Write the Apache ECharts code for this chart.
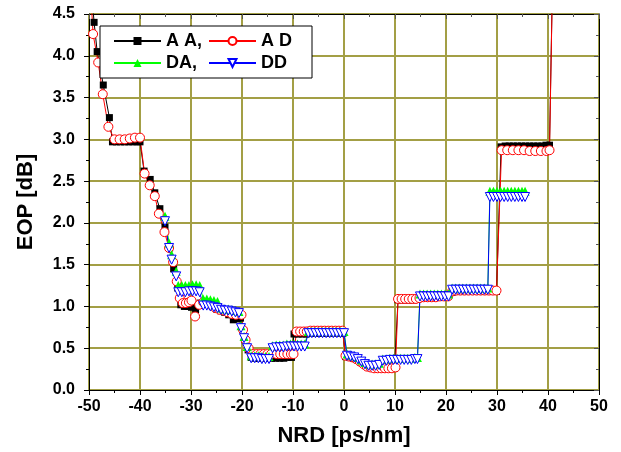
<!DOCTYPE html>
<html>
<head>
<meta charset="utf-8">
<script src="https://cdn.jsdelivr.net/npm/echarts@6/dist/echarts.min.js"></script>
<style>
body { margin: 0; background: #fff; }
#chart { width: 621px; height: 452px; }
</style>
</head>
<body>
<div id="chart"></div>
<script>
// NRD [ps/nm] vs EOP [dB]
const legendNames = ['A A,', 'A D', 'DA,', 'DD'];

const aaPoints = [
    [-49.8, 5.00], [-49.0, 4.40], [-48.4, 4.05], [-47.2, 3.65], [-46.0, 3.26],
    [-45.4, 2.97], [-44.6, 2.97], [-43.8, 2.97], [-43.0, 2.97], [-42.2, 2.97], [-41.4, 2.97], [-40.6, 2.97], [-40.0, 2.97],
    [-39.2, 2.62], [-38.0, 2.52], [-37.1, 2.36], [-36.1, 2.17], [-35.1, 1.95], [-34.2, 1.70], [-33.4, 1.45], [-32.6, 1.22],
    [-32.0, 1.02], [-31.3, 1.00], [-30.6, 1.00], [-29.9, 0.99], [-29.1, 0.96],
    [-28.2, 1.04], [-27.4, 1.05], [-26.6, 1.04], [-25.8, 1.00], [-25.0, 0.97], [-24.2, 0.95], [-23.4, 0.93], [-22.6, 0.90],
    [-21.7, 0.84], [-20.9, 0.85], [-20.3, 0.86],
    [-19.9, 0.72], [-19.4, 0.60], [-18.8, 0.48],
    [-18.2, 0.39], [-17.4, 0.38], [-16.6, 0.38], [-15.8, 0.38], [-15.0, 0.38], [-14.2, 0.38], [-13.4, 0.38], [-12.6, 0.38],
    [-11.8, 0.38], [-11.0, 0.39], [-10.3, 0.39],
    [-9.8, 0.67], [-9.0, 0.67], [-8.2, 0.67], [-7.4, 0.67], [-6.6, 0.68], [-5.8, 0.68], [-5.0, 0.68], [-4.2, 0.68],
    [-3.4, 0.68], [-2.6, 0.68], [-1.8, 0.68], [-1.0, 0.68], [-0.2, 0.68],
    [0.3, 0.40], [1.1, 0.39], [1.9, 0.38], [2.7, 0.36], [3.5, 0.33], [4.3, 0.29], [5.1, 0.27], [5.9, 0.26], [6.7, 0.26],
    [7.5, 0.26], [8.3, 0.26], [9.1, 0.26], [9.9, 0.26],
    [10.6, 1.08], [11.3, 1.08], [12.0, 1.08], [12.7, 1.08], [13.4, 1.08], [14.1, 1.09], [14.8, 1.10], [15.6, 1.11],
    [16.4, 1.11], [17.2, 1.11], [18.0, 1.12], [18.8, 1.12], [19.6, 1.12], [20.4, 1.12],
    [21.2, 1.17], [22.0, 1.18], [22.8, 1.18], [23.6, 1.18], [24.4, 1.18], [25.2, 1.18], [26.0, 1.18], [26.8, 1.18],
    [27.6, 1.18], [28.4, 1.18], [29.2, 1.18], [29.9, 1.18],
    [30.8, 2.91], [31.6, 2.92], [32.4, 2.92], [33.2, 2.92], [34.0, 2.92], [34.8, 2.92], [35.6, 2.92], [36.4, 2.92],
    [37.2, 2.92], [38.0, 2.92], [38.8, 2.92], [39.6, 2.93], [40.3, 2.93],
    [41.2, 6.00]
];

const adPoints = [
    [-49.8, 4.90], [-49.2, 4.26], [-48.2, 3.92], [-47.3, 3.54], [-46.2, 3.15],
    [-45.0, 3.00], [-44.0, 3.00], [-43.0, 3.00], [-42.0, 3.01], [-41.0, 3.02], [-40.0, 3.02],
    [-39.1, 2.59], [-38.1, 2.45], [-37.1, 2.32], [-36.3, 2.11], [-35.2, 1.89], [-34.3, 1.70], [-33.5, 1.53], [-32.8, 1.30],
    [-32.2, 1.10], [-31.6, 1.04], [-31.0, 1.04], [-30.4, 1.05], [-29.9, 1.07], [-29.2, 0.88],
    [-28.4, 1.02], [-27.6, 1.05], [-26.8, 1.04], [-26.0, 1.02], [-25.2, 0.98], [-24.4, 0.96], [-23.6, 0.95], [-22.8, 0.93],
    [-22.0, 0.91], [-21.2, 0.90], [-20.1, 0.90],
    [-19.8, 0.72], [-19.3, 0.60], [-18.7, 0.50],
    [-17.8, 0.43], [-17.1, 0.43], [-16.4, 0.43], [-15.7, 0.43], [-15.0, 0.43], [-14.3, 0.43], [-13.2, 0.43], [-12.5, 0.43],
    [-11.8, 0.43], [-11.1, 0.43], [-10.4, 0.43], [-9.9, 0.43],
    [-9.3, 0.70], [-8.6, 0.70], [-7.9, 0.70], [-7.3, 0.70], [-6.6, 0.71], [-5.9, 0.71], [-5.2, 0.71], [-4.5, 0.71],
    [-3.8, 0.71], [-3.1, 0.71], [-2.4, 0.71], [-1.7, 0.71], [-1.0, 0.71], [-0.3, 0.71],
    [0.3, 0.41], [1.0, 0.40], [1.7, 0.39], [2.4, 0.37], [3.1, 0.34], [3.8, 0.31], [4.5, 0.28], [5.2, 0.27], [5.9, 0.26],
    [6.6, 0.26], [7.3, 0.26], [8.0, 0.26], [8.7, 0.26], [9.4, 0.26], [10.1, 0.27],
    [10.6, 1.09], [11.3, 1.09], [12.0, 1.09], [12.7, 1.09], [13.4, 1.09], [14.1, 1.09], [14.8, 1.10], [15.6, 1.11],
    [16.4, 1.11], [17.2, 1.11], [18.0, 1.11], [18.8, 1.12], [19.6, 1.12], [20.4, 1.12],
    [21.2, 1.18], [22.0, 1.19], [22.8, 1.19], [23.6, 1.19], [24.4, 1.19], [25.2, 1.19], [26.0, 1.19], [26.8, 1.19],
    [27.6, 1.19], [28.4, 1.19], [29.2, 1.19], [29.9, 1.19],
    [30.9, 2.87], [32.0, 2.87], [33.1, 2.87], [34.2, 2.87], [35.3, 2.87], [36.4, 2.86], [37.5, 2.86], [38.6, 2.86],
    [39.7, 2.86], [40.3, 2.87],
    [41.2, 6.00]
];

const daPoints = [
    [-35.1, 2.08], [-34.3, 1.76], [-33.8, 1.62], [-32.9, 1.42],
    [-32.5, 1.25], [-31.8, 1.25], [-31.1, 1.25], [-30.4, 1.25], [-29.7, 1.26], [-29.0, 1.26], [-28.3, 1.25],
    [-27.6, 1.09], [-26.9, 1.09], [-26.2, 1.08], [-25.5, 1.07], [-24.8, 1.06],
    [-24.1, 0.98], [-23.4, 0.97], [-22.7, 0.97], [-22.0, 0.96], [-21.3, 0.95], [-20.6, 0.94],
    [-20.2, 0.77], [-19.6, 0.64], [-19.0, 0.52],
    [-18.2, 0.41], [-17.5, 0.41], [-16.8, 0.41], [-16.1, 0.40], [-15.4, 0.40], [-14.7, 0.40],
    [-14.0, 0.53], [-13.3, 0.54], [-12.6, 0.54], [-11.9, 0.54], [-11.2, 0.55], [-10.5, 0.55], [-9.8, 0.55], [-9.1, 0.55],
    [-8.4, 0.55], [-7.7, 0.55],
    [-7.0, 0.70], [-6.3, 0.70], [-5.6, 0.70], [-4.9, 0.70], [-4.2, 0.70], [-3.5, 0.70], [-2.8, 0.70], [-2.1, 0.70],
    [-1.4, 0.70], [-0.7, 0.70], [0.0, 0.70],
    [0.6, 0.43], [1.3, 0.42], [2.0, 0.41], [2.7, 0.39], [3.4, 0.36], [4.1, 0.33], [4.8, 0.31], [5.5, 0.31], [6.2, 0.31],
    [6.9, 0.32],
    [7.6, 0.37], [8.3, 0.37], [9.0, 0.38], [9.7, 0.38], [10.4, 0.38], [11.1, 0.38], [11.8, 0.38], [12.5, 0.38],
    [13.2, 0.38], [13.9, 0.39], [14.4, 0.39],
    [14.9, 1.15], [15.6, 1.15], [16.3, 1.15], [17.0, 1.15], [17.7, 1.15], [18.4, 1.15], [19.1, 1.15], [19.8, 1.15],
    [20.5, 1.15],
    [21.2, 1.22], [21.9, 1.22], [22.6, 1.22], [23.3, 1.22], [24.0, 1.22], [24.7, 1.22], [25.4, 1.22], [26.1, 1.22],
    [26.8, 1.22], [27.5, 1.22], [28.2, 1.22],
    [28.6, 2.38], [29.3, 2.38], [30.0, 2.38], [30.7, 2.38], [31.4, 2.38], [32.1, 2.38], [32.8, 2.38], [33.5, 2.38],
    [34.2, 2.38], [34.9, 2.38], [35.5, 2.38]
];

const ddPoints = [
    [-35.1, 2.02], [-34.3, 1.70], [-33.8, 1.56], [-32.9, 1.36],
    [-32.5, 1.17], [-31.8, 1.17], [-31.1, 1.17], [-30.4, 1.18], [-29.7, 1.18], [-29.0, 1.18], [-28.3, 1.17],
    [-27.6, 1.01], [-26.9, 1.01], [-26.2, 1.00], [-25.5, 0.99], [-24.8, 0.98],
    [-24.1, 0.96], [-23.4, 0.95], [-22.7, 0.95], [-22.0, 0.94], [-21.3, 0.93], [-20.6, 0.92],
    [-20.2, 0.74], [-19.6, 0.62], [-19.0, 0.50],
    [-18.2, 0.38], [-17.5, 0.38], [-16.8, 0.38], [-16.1, 0.37], [-15.4, 0.37], [-14.7, 0.37],
    [-14.0, 0.50], [-13.3, 0.51], [-12.6, 0.51], [-11.9, 0.51], [-11.2, 0.52], [-10.5, 0.52], [-9.8, 0.52], [-9.1, 0.52],
    [-8.4, 0.52], [-7.7, 0.52],
    [-7.0, 0.68], [-6.3, 0.68], [-5.6, 0.68], [-4.9, 0.68], [-4.2, 0.68], [-3.5, 0.68], [-2.8, 0.68], [-2.1, 0.68],
    [-1.4, 0.68], [-0.7, 0.68], [0.0, 0.68],
    [0.6, 0.41], [1.3, 0.40], [2.0, 0.39], [2.7, 0.37], [3.4, 0.34], [4.1, 0.31], [4.8, 0.29], [5.5, 0.29], [6.2, 0.29],
    [6.9, 0.30],
    [7.6, 0.35], [8.3, 0.35], [9.0, 0.36], [9.7, 0.36], [10.4, 0.36], [11.1, 0.36], [11.8, 0.36], [12.5, 0.36],
    [13.2, 0.36], [13.9, 0.37], [14.4, 0.37],
    [14.9, 1.12], [15.6, 1.12], [16.3, 1.12], [17.0, 1.12], [17.7, 1.12], [18.4, 1.12], [19.1, 1.12], [19.8, 1.12],
    [20.5, 1.12],
    [21.2, 1.20], [21.9, 1.20], [22.6, 1.20], [23.3, 1.20], [24.0, 1.20], [24.7, 1.20], [25.4, 1.20], [26.1, 1.20],
    [26.8, 1.20], [27.5, 1.20], [28.2, 1.20],
    [28.6, 2.31], [29.3, 2.31], [30.0, 2.31], [30.7, 2.31], [31.4, 2.31], [32.1, 2.31], [32.8, 2.31], [33.5, 2.31],
    [34.2, 2.31], [34.9, 2.31], [35.5, 2.31]
];

const font = 'Liberation Sans, Arial, sans-serif';
const gridColor = '#a39f45';

const chart = echarts.init(document.getElementById('chart'));

const frameAxis = {
    min: -50,
    max: 50,
    interval: 10,
    axisLine: { show: true, onZero: false, lineStyle: { color: '#000', width: 1 } },
    axisTick: { show: true, inside: true, length: 5, lineStyle: { color: '#555' } },
    minorTick: { show: true, splitNumber: 2, length: 3, lineStyle: { color: '#555' } },
    axisLabel: { show: false },
    splitLine: { show: false }
};

chart.setOption({
    animation: false,
    backgroundColor: '#fff',
    textStyle: { fontFamily: font },
    grid: { left: 89, right: 22, top: 14, bottom: 60 },
    legend: {
        data: legendNames,
        left: 100,
        top: 26,
        width: 200,
        padding: [5, 11, 5, 13],
        itemGap: 2,
        itemWidth: 47,
        itemHeight: 10,
        backgroundColor: '#fff',
        borderColor: '#000',
        borderWidth: 1,
        borderRadius: 0,
        textStyle: {
            fontFamily: font,
            fontSize: 18,
            fontWeight: 'bold',
            color: '#000',
            width: 40,
            lineHeight: 20
        }
    },
    xAxis: [
        {
            type: 'value',
            min: -50,
            max: 50,
            interval: 10,
            name: 'NRD [ps/nm]',
            nameLocation: 'middle',
            nameGap: 35,
            nameTextStyle: { fontFamily: font, fontSize: 22, fontWeight: 'bold', color: '#000' },
            axisLine: { onZero: false, lineStyle: { color: '#000', width: 1 } },
            axisTick: { show: true, length: 5, lineStyle: { color: '#000' } },
            minorTick: { show: true, splitNumber: 2, length: 3, lineStyle: { color: '#000' } },
            axisLabel: { fontFamily: font, fontSize: 16, fontWeight: 'bold', color: '#000', margin: 9 },
            splitLine: { show: true, lineStyle: { color: gridColor, width: 2 } }
        },
        Object.assign({ type: 'value', position: 'top' }, frameAxis)
    ],
    yAxis: [
        {
            type: 'value',
            min: 0,
            max: 4.5,
            interval: 0.5,
            name: 'EOP [dB]',
            nameLocation: 'middle',
            nameGap: 52,
            nameTextStyle: { fontFamily: font, fontSize: 22, fontWeight: 'bold', color: '#000' },
            axisLine: { show: true, onZero: false, lineStyle: { color: '#000', width: 1 } },
            axisTick: { show: true, length: 5, lineStyle: { color: '#000' } },
            minorTick: { show: true, splitNumber: 2, length: 3, lineStyle: { color: '#000' } },
            axisLabel: {
                fontFamily: font, fontSize: 16, fontWeight: 'bold', color: '#000', margin: 14,
                formatter: v => v.toFixed(1)
            },
            splitLine: { show: true, lineStyle: { color: gridColor, width: 2 } }
        },
        Object.assign({ type: 'value', position: 'right' }, frameAxis, { min: 0, max: 4.5, interval: 0.5 })
    ],
    series: [
        {
            name: legendNames[0],
            type: 'line',
            data: aaPoints,
            symbol: 'rect',
            symbolSize: 7,
            itemStyle: { color: '#000' },
            lineStyle: { color: '#000', width: 1 }
        },
        {
            name: legendNames[1],
            type: 'line',
            data: adPoints,
            symbol: 'circle',
            symbolSize: 9,
            itemStyle: { color: '#fff', borderColor: '#ff0000', borderWidth: 1 },
            lineStyle: { color: '#ff0000', width: 1 }
        },
        {
            name: legendNames[2],
            type: 'line',
            data: daPoints,
            symbol: 'triangle',
            symbolSize: 9,
            itemStyle: { color: '#00ff00' },
            lineStyle: { color: '#00ff00', width: 1 }
        },
        {
            name: legendNames[3],
            type: 'line',
            data: ddPoints,
            symbol: 'triangle',
            symbolRotate: 180,
            symbolSize: 9,
            itemStyle: { color: '#fff', borderColor: '#0000ff', borderWidth: 1 },
            lineStyle: { color: '#0000ff', width: 1 }
        }
    ]
});
</script>
</body>
</html>
